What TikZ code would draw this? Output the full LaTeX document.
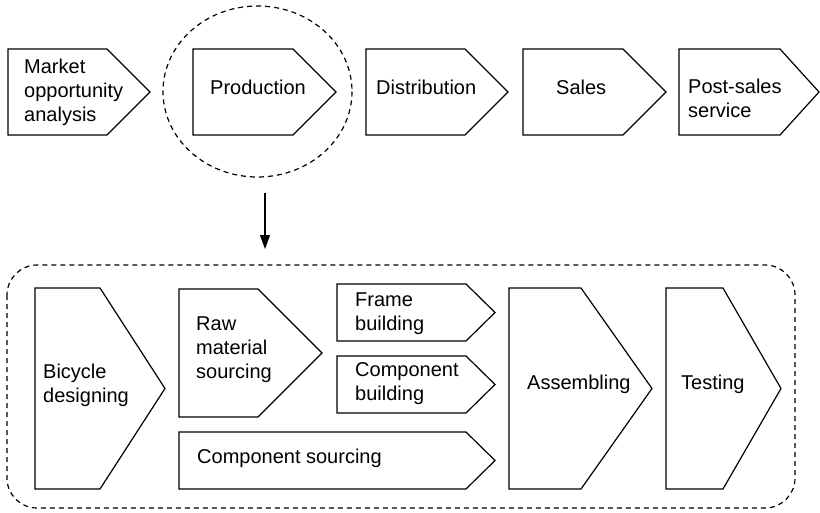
\documentclass[tikz,border=0pt]{standalone}
\usepackage{fontspec}
\setmainfont{Liberation Sans}
\usetikzlibrary{arrows.meta}
% pentagon arrow: left, top, shoulder x, tip x, bottom
\newcommand\chevronbox[5]{%
  \draw[stage] (#1,#2) -- (#3,#2) -- (#4,{(#2+#5)/2}) -- (#3,#5) -- (#1,#5) -- cycle;}
\begin{document}
\begin{tikzpicture}[x=1pt,y=-1pt,
  stage/.style={draw=black, line width=1.2pt, line join=miter, fill=white},
  stagetext/.style={anchor=west, inner sep=0pt, align=left, font=\fontsize{20}{24}\selectfont},
  outline/.style={draw=black, line width=1.2pt, dash pattern=on 5pt off 4pt}]
\useasboundingbox (0,0) rectangle (820,512);

% value chain
\chevronbox{8}{49}{107}{150}{135}
\chevronbox{193}{49}{293}{336}{135}
\chevronbox{366}{49}{465}{508}{135}
\chevronbox{523}{49}{623}{666}{135}
\chevronbox{679}{49}{780}{819}{135}
\node[stagetext] (market) at (24,92) {Market\\opportunity\\analysis};
\node[stagetext] (production) at (210,87) {Production};
\node[stagetext] (distribution) at (376,87) {Distribution};
\node[stagetext] (sales) at (556,87) {Sales};
\node[stagetext] (postsales) at (688,98) {Post-sales\\service};

% highlight around production
\draw[outline] (257.5,91.5) ellipse [x radius=94.5, y radius=85.5];
\coordinate (zoomfrom) at (265,193);
\coordinate (zoomto) at (265,249);
\draw[line width=1.2pt, -{Triangle[length=14pt,width=10pt]}] (zoomfrom) -- (zoomto);

% production breakdown
\draw[outline, rounded corners=30pt] (7,265) rectangle (795,508);
\chevronbox{35}{288}{100}{165}{489}
\chevronbox{179}{289}{258}{322}{417}
\chevronbox{337}{284}{466}{495}{341}
\chevronbox{337}{356}{466}{495}{413}
\chevronbox{179}{432}{466}{495}{489}
\chevronbox{509}{288}{581}{652}{489}
\chevronbox{666}{288}{723}{781}{489}
\node[stagetext] (design) at (43,385) {Bicycle\\designing};
\node[stagetext] (raw) at (196,350) {Raw\\material\\sourcing};
\node[stagetext] (frame) at (355,314) {Frame\\building};
\node[stagetext] (compbuild) at (355,384) {Component\\building};
\node[stagetext] (compsource) at (197,458) {Component sourcing};
\node[stagetext] (assembly) at (527,384) {Assembling};
\node[stagetext] (testing) at (681,384) {Testing};
\end{tikzpicture}
\end{document}
